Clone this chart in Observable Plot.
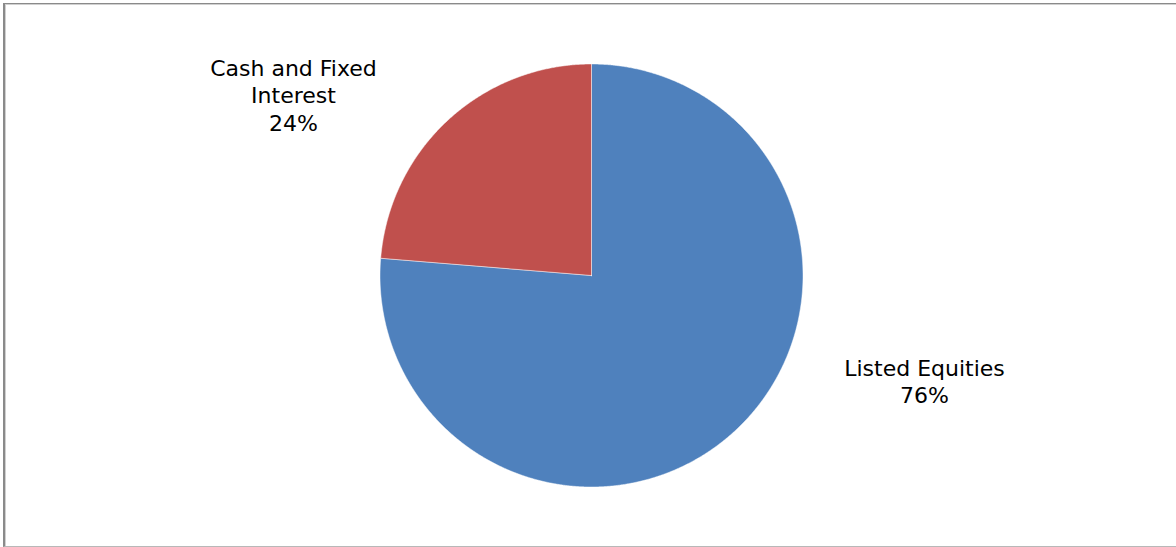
<!DOCTYPE html>
<html><head><meta charset="utf-8">
<script src="https://cdn.jsdelivr.net/npm/d3@7"></script>
<script src="https://cdn.jsdelivr.net/npm/@observablehq/plot@0.6"></script>
<style>
body{margin:0;background:#fff;}
#wrap{position:relative;width:1176px;height:547px;overflow:hidden;}
#frame{position:absolute;left:3px;top:3px;width:1200px;height:544px;border-top:1px solid #8a8a8a;border-left:2px solid #8a8a8a;border-bottom:1px solid #b8b8b8;box-shadow:inset 1px 1px 0 #d0d0d0;box-sizing:border-box;pointer-events:none;}
#wrap svg{position:absolute;left:0;top:0;}
</style></head><body><div id="wrap"><div id="frame"></div></div>
<script>
const categories = ["Listed Equities", "Cash and Fixed Interest"];
const shares = [76.3, 23.7];
const labelLines = ["Listed Equities", "Cash and Fixed\nInterest"];
const colors = ["#4F81BD", "#C0504D"];

// layout (pixels)
const W = 1176, H = 547, CX = 591, CY = 275, R = 211.5;
const labelOffsetPx = [[333, 105], [-298, -181]];

const total = d3.sum(shares);
const arcs = d3.pie().sort(null).value(d => d)(shares);

// build slice outlines from the pie angles (clockwise from 12 o'clock)
const polys = [];
arcs.forEach((a, i) => {
  const steps = Math.max(2, Math.ceil((a.endAngle - a.startAngle) / 0.005));
  polys.push({cat: categories[i], x: 0, y: 0});
  for (let k = 0; k <= steps; k++) {
    const t = a.startAngle + (a.endAngle - a.startAngle) * k / steps;
    polys.push({cat: categories[i], x: Math.sin(t), y: Math.cos(t)});
  }
  polys.push({cat: categories[i], x: 0, y: 0});
});

const labels = categories.map((c, i) => ({
  cat: c,
  text: labelLines[i] + "\n" + Math.round(shares[i] / total * 100) + "%",
  x: labelOffsetPx[i][0] / R,
  y: -labelOffsetPx[i][1] / R
}));

const chart = Plot.plot({
  width: W, height: H,
  margin: 0,
  x: {domain: [-1, 1], range: [CX - R, CX + R], axis: null},
  y: {domain: [-1, 1], range: [CY + R, CY - R], axis: null},
  color: {domain: categories, range: colors},
  style: {background: "transparent", fontFamily: "DejaVu Sans, Verdana, sans-serif"},
  marks: [
    Plot.line(polys, {x: "x", y: "y", z: "cat", fill: "cat", stroke: "white", strokeWidth: 0.8, strokeOpacity: 0.6, curve: "linear-closed"}),
    Plot.text(labels, {x: "x", y: "y", text: "text", fontSize: 22, lineHeight: 1.25, fill: "#000", textAnchor: "middle", lineAnchor: "middle", fontFamily: "DejaVu Sans, Verdana, sans-serif"})
  ]
});
document.getElementById("wrap").appendChild(chart);
</script></body></html>
